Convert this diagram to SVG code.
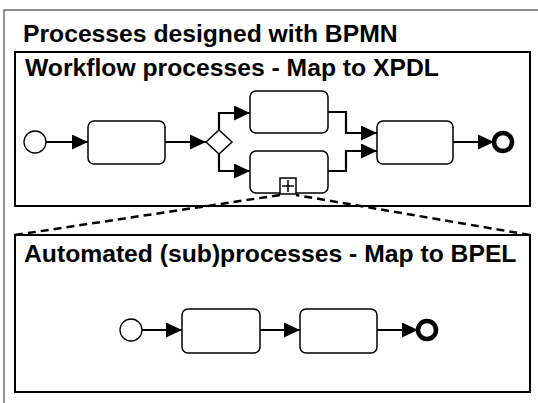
<svg xmlns="http://www.w3.org/2000/svg" width="538" height="403" viewBox="0 0 538 403">
  <style>
    .title { font-family: "Liberation Sans", Arial, sans-serif; font-weight: bold; font-size: 24.7px; fill: #000; }
    .frame { fill: none; stroke: #000; stroke-width: 2; }
    .task { fill: #fff; stroke: #000; stroke-width: 1.5; }
    .start { fill: #fff; stroke: #000; stroke-width: 1.3; }
    .end { fill: #fff; stroke: #000; stroke-width: 4.5; }
    .flow { fill: none; stroke: #000; stroke-width: 2.2; }
    .zoom { fill: none; stroke: #000; stroke-width: 2.5; stroke-dasharray: 8 5; }
  </style>
  <defs>
    <marker id="arrow" markerUnits="userSpaceOnUse" markerWidth="16" markerHeight="15" refX="16" refY="7.5" orient="auto">
      <path d="M0,0 L16,7.5 L0,15 z" fill="#000"/>
    </marker>
  </defs>

  <rect width="538" height="403" fill="#fff"/>

  <!-- outer frame, runs off the right and bottom edges -->
  <g id="bpmn-frame">
    <rect x="4" y="10" width="560" height="420" fill="none" stroke="#555" stroke-width="1.3"/>
    <text class="title" x="23" y="42">Processes designed with BPMN</text>
  </g>

  <!-- workflow pool -->
  <g id="workflow-frame">
    <rect class="frame" x="15" y="52" width="515" height="154"/>
    <text class="title" x="25" y="76">Workflow processes - Map to XPDL</text>
  </g>

  <!-- automated pool -->
  <g id="automated-frame">
    <rect class="frame" x="15" y="235" width="515" height="157"/>
    <text class="title" x="24" y="262">Automated (sub)processes - Map to BPEL</text>
  </g>

  <!-- connectors -->
  <g id="connectors">
    <line class="flow" x1="46" y1="142" x2="88" y2="142" marker-end="url(#arrow)"/>
    <line class="flow" x1="165" y1="142" x2="206" y2="142" marker-end="url(#arrow)"/>
    <polyline class="flow" points="219,130 219,113 250,113" marker-end="url(#arrow)"/>
    <polyline class="flow" points="219,154 219,171 250,171" marker-end="url(#arrow)"/>
    <polyline class="flow" points="328,112 346,112 346,133 377,133" marker-end="url(#arrow)"/>
    <polyline class="flow" points="328,171 346,171 346,151 377,151" marker-end="url(#arrow)"/>
    <line class="flow" x1="453" y1="142" x2="494" y2="142" marker-end="url(#arrow)"/>

    <line class="zoom" x1="15" y1="235" x2="280" y2="195"/>
    <line class="zoom" x1="530" y1="235" x2="296" y2="195"/>

    <line class="flow" x1="142" y1="330" x2="182" y2="330" marker-end="url(#arrow)"/>
    <line class="flow" x1="260" y1="330" x2="300" y2="330" marker-end="url(#arrow)"/>
    <line class="flow" x1="377" y1="330" x2="418" y2="330" marker-end="url(#arrow)"/>
  </g>

  <!-- workflow nodes -->
  <g id="wf-start"><circle class="start" cx="35" cy="142" r="11"/></g>
  <g id="wf-task1"><rect class="task" x="88" y="121" width="77" height="43" rx="6"/></g>
  <g id="wf-gateway"><polygon class="task" points="206,142 219,130 232,142 219,154"/></g>
  <g id="wf-task2"><rect class="task" x="250" y="91" width="78" height="42" rx="6"/></g>
  <g id="wf-subprocess">
    <rect class="task" x="250" y="151" width="78" height="42" rx="6"/>
    <rect x="280" y="178" width="16" height="16" fill="#fff" stroke="#000" stroke-width="1.5"/>
    <path d="M282,186 H294 M288,180 V192" stroke="#000" stroke-width="1.5"/>
  </g>
  <g id="wf-task3"><rect class="task" x="377" y="121" width="76" height="43" rx="6"/></g>
  <g id="wf-end"><circle class="end" cx="503" cy="142" r="9"/></g>

  <!-- automated nodes -->
  <g id="auto-start"><circle class="start" cx="131" cy="330" r="11"/></g>
  <g id="auto-task1"><rect class="task" x="182" y="309" width="78" height="44" rx="6"/></g>
  <g id="auto-task2"><rect class="task" x="300" y="309" width="77" height="44" rx="6"/></g>
  <g id="auto-end"><circle class="end" cx="427" cy="330" r="9"/></g>
</svg>
